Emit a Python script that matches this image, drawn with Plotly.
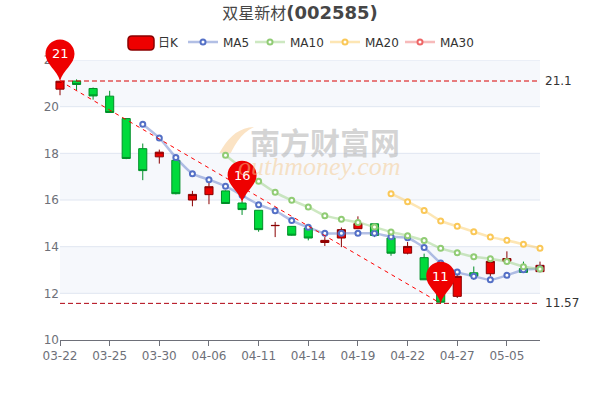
import plotly.graph_objects as go

W, H = 600, 400
PLOT_L, PLOT_R, PLOT_T, PLOT_B = 60, 540, 60, 340

dates = ['03-22', '03-23', '03-24', '03-25', '03-28', '03-29', '03-30', '03-31', '04-01', '04-06',
         '04-07', '04-08', '04-11', '04-12', '04-13', '04-14', '04-15', '04-18', '04-19', '04-20',
         '04-21', '04-22', '04-25', '04-26', '04-27', '04-28', '04-29', '05-05', '05-06', '05-09']

opens = [20.75, 21.10, 20.78, 20.45, 19.49, 18.20, 17.85, 17.70, 16.00, 16.23,
         16.39, 15.87, 15.56, 14.90, 14.87, 14.80, 14.18, 14.37, 14.77, 14.98,
         14.37, 13.72, 13.53, 12.80, 11.87, 12.88, 12.84, 13.38, 13.06, 12.93]
closes = [21.09, 20.95, 20.46, 19.75, 17.78, 17.26, 18.05, 16.27, 16.24, 16.57,
          15.85, 15.59, 14.73, 14.91, 14.49, 14.37, 14.27, 14.73, 14.99, 14.48,
          13.72, 14.01, 12.58, 11.62, 12.73, 12.74, 13.37, 13.49, 12.90, 13.20]
highs = [21.10, 21.17, 20.82, 20.68, 19.49, 18.42, 18.16, 17.70, 16.39, 16.77,
         16.41, 15.95, 15.56, 15.06, 14.87, 14.87, 14.41, 14.82, 15.30, 14.98,
         14.41, 14.20, 13.70, 12.90, 12.80, 13.15, 13.37, 13.80, 13.36, 13.36]
lows = [20.49, 20.70, 20.30, 19.75, 17.75, 16.85, 17.56, 16.24, 15.73, 15.82,
        15.83, 15.36, 14.64, 14.41, 14.47, 14.27, 14.03, 13.98, 14.77, 14.41,
        13.61, 13.67, 12.58, 11.57, 11.80, 12.58, 12.72, 13.23, 12.90, 12.91]

ma5 = [None] * 5 + [19.25, 18.66, 17.82, 17.13, 16.87, 16.59, 16.20, 15.80, 15.54, 15.12,
                    14.83, 14.57, 14.57, 14.57, 14.57, 14.43, 14.38, 13.96, 13.30, 12.91,
                    12.73, 12.58, 12.77, 13.01, 13.05]
ma10 = [None] * 10 + [17.92, 17.36, 16.80, 16.33, 15.99, 15.70, 15.33, 15.17, 15.04, 14.84,
                      14.63, 14.47, 14.26, 13.93, 13.74, 13.57, 13.48, 13.36, 13.14, 13.04]
ma20 = [None] * 20 + [16.27, 15.93, 15.55, 15.10, 14.87, 14.64, 14.41, 14.27, 14.10, 13.93]
ma30 = [None] * 30

y_ticks = [10, 12, 14, 16, 18, 20, 22]
x_tick_idx = list(range(0, 30, 3))
pins = [(0, 21.1, '21'), (11, 15.9, '16'), (23, 11.57, '11')]
max_val, min_val = 21.1, 11.57
max_idx, min_idx = 0, 23

idx = list(range(len(dates)))
day_px = (PLOT_R - PLOT_L) / (len(dates) - 1)
PAD = 12  # candles at the ends stick out of the grid, so they get a wider axis


def px(x):
    return x / W


def py(y):
    return 1 - y / H


fig = go.Figure()

fig.add_trace(go.Candlestick(
    x=idx, open=opens, high=highs, low=lows, close=closes, xaxis='x', yaxis='y',
    increasing=dict(fillcolor='#EE0000', line=dict(color='#8A0000', width=1)),
    decreasing=dict(fillcolor='#00DA3C', line=dict(color='#008F28', width=1)),
    whiskerwidth=0, showlegend=False, hoverinfo='skip'))

fig.add_trace(go.Scatter(
    x=idx, y=[None] * len(idx), mode='markers', name='日K', xaxis='x2', yaxis='y', legend='legend',
    marker=dict(color='rgba(0,0,0,0)', size=1), hoverinfo='skip'))


def ma_trace(name, values, color, rgba, legend):
    return go.Scatter(
        x=idx, y=values, mode='lines+markers', name=name, xaxis='x2', yaxis='y', legend=legend,
        line=dict(color=rgba, width=2.5, shape='spline', smoothing=0.5),
        marker=dict(color='white', size=5, line=dict(color=color, width=2)),
        connectgaps=False, cliponaxis=False, hoverinfo='skip')


fig.add_trace(ma_trace('MA5', ma5, '#5470C6', 'rgba(84,112,198,0.45)', 'legend2'))
fig.add_trace(ma_trace('MA10', ma10, '#91CC75', 'rgba(145,204,117,0.45)', 'legend3'))
fig.add_trace(ma_trace('MA20', ma20, '#FAC858', 'rgba(250,200,88,0.45)', 'legend4'))
fig.add_trace(ma_trace('MA30', ma30, '#EE6666', 'rgba(238,102,102,0.45)', 'legend5'))

# mark lines
fig.add_trace(go.Scatter(x=[idx[0], idx[-1]], y=[max_val, max_val], mode='lines', xaxis='x2', yaxis='y',
                         line=dict(color='#D80000', width=1, dash='5px,3px'), showlegend=False, hoverinfo='skip'))
fig.add_trace(go.Scatter(x=[idx[0], idx[-1]], y=[min_val, min_val], mode='lines', xaxis='x2', yaxis='y',
                         line=dict(color='#B00010', width=1, dash='5px,3px'), showlegend=False, hoverinfo='skip'))
fig.add_trace(go.Scatter(x=[max_idx, min_idx], y=[max_val, min_val], mode='lines', xaxis='x2', yaxis='y',
                         line=dict(color='#FF0000', width=1, dash='4px,4px'), showlegend=False, hoverinfo='skip'))

shapes = []
# split areas and split lines
for i in range(len(y_ticks) - 1):
    if i % 2 == 1:
        continue
    shapes.append(dict(type='rect', xref='x', yref='y', x0=idx[0], x1=idx[-1], y0=y_ticks[-1 - i], y1=y_ticks[-2 - i],
                       fillcolor='#F6F8FC', line_width=0, layer='below'))
for t in y_ticks[1:]:
    shapes.append(dict(type='line', xref='x', yref='y', x0=idx[0], x1=idx[-1], y0=t, y1=t,
                       line=dict(color='#E0E6F1', width=1), layer='below'))

# watermark crescent
shapes.append(dict(type='path', xref='paper', yref='paper', layer='below', fillcolor='#FBE3C4', line_width=0,
                   path='M {:.4f} {:.4f} C {:.4f} {:.4f} {:.4f} {:.4f} {:.4f} {:.4f} C {:.4f} {:.4f} {:.4f} {:.4f} {:.4f} {:.4f} Z'.format(
                       px(254), py(127), px(226), py(128), px(214), py(160), px(204), py(194),
                       px(228), py(180), px(226), py(140), px(254), py(127))))

# legend swatch, anchored so the rounded corners can be given in pixels
SWATCH_PATH = ('M -9 -7 L 9 -7 Q 13 -7 13 -3 L 13 3 Q 13 7 9 7 L -9 7 '
               'Q -13 7 -13 3 L -13 -3 Q -13 -7 -9 -7 Z')
shapes.append(dict(type='path', xref='paper', yref='paper', xsizemode='pixel', ysizemode='pixel',
                   xanchor=px(141), yanchor=py(43), path=SWATCH_PATH,
                   fillcolor='#EE0000', line=dict(color='#8A0000', width=1.5)))


def x_paper(i):
    return px(PLOT_L + i * day_px)


def y_paper(v):
    return py(PLOT_B - (v - y_ticks[0]) / (y_ticks[-1] - y_ticks[0]) * (PLOT_B - PLOT_T))


# teardrop, tip at anchor, y goes up
PIN_PATH = 'M 0 0 C -3 11 -14.5 17 -14.5 27 C -14.5 35 -8 41.5 0 41.5 C 8 41.5 14.5 35 14.5 27 C 14.5 17 3 11 0 0 Z'

annotations = []
for i, v, label in pins:
    shapes.append(dict(type='path', xref='paper', yref='paper', xsizemode='pixel', ysizemode='pixel',
                       xanchor=x_paper(i), yanchor=y_paper(v), path=PIN_PATH, fillcolor='#EE0000', line_width=0))
    annotations.append(dict(x=x_paper(i), y=y_paper(v), xref='paper', yref='paper', text=label, showarrow=False,
                            xanchor='center', yanchor='middle', yshift=27,
                            font=dict(color='white', size=13, family='DejaVu Sans')))

for v, label in [(max_val, '21.1'), (min_val, '11.57')]:
    annotations.append(dict(x=idx[-1], y=v, xref='x2', yref='y', text=label, showarrow=False, xanchor='left',
                            xshift=3, font=dict(color='#333333', size=12, family='DejaVu Sans')))

annotations.append(dict(x=px(325), y=py(141), xref='paper', yref='paper', text='<b>南方财富网</b>', showarrow=False,
                        xanchor='center', yanchor='middle',
                        font=dict(color='rgba(170,170,170,0.5)', size=30, family='Noto Sans CJK SC')))
annotations.append(dict(x=px(319), y=py(166), xref='paper', yref='paper', text='<i>outhmoney.com</i>', showarrow=False,
                        xanchor='center', yanchor='middle',
                        font=dict(color='rgba(245,200,140,0.5)', size=26, family='Liberation Serif')))

# one legend box per entry so each sits where the reference has it
legend_base = dict(orientation='h', xanchor='left', yanchor='middle', y=py(42), bgcolor='rgba(0,0,0,0)',
                   font=dict(size=12, color='#333333'), itemwidth=30, itemclick=False, itemdoubleclick=False)

fig.update_layout(
    width=W, height=H,
    margin=dict(l=0, r=0, t=0, b=0, pad=0),
    paper_bgcolor='white', plot_bgcolor='rgba(0,0,0,0)',
    font=dict(family='DejaVu Sans, Noto Sans CJK SC', size=12, color='#333333'),
    title=dict(text='<span style="font-size:16px">双星新材</span><b>(002585)</b>', x=0.5,
               xanchor='center', y=py(13), yanchor='middle', font=dict(size=18, color='#464646')),
    boxgap=0.3,
    shapes=shapes, annotations=annotations,
    legend=dict(legend_base, x=px(118)),
    legend2=dict(legend_base, x=px(183)),
    legend3=dict(legend_base, x=px(250)),
    legend4=dict(legend_base, x=px(325)),
    legend5=dict(legend_base, x=px(400)),
    xaxis=dict(domain=[px(PLOT_L - PAD), px(PLOT_R + PAD)], range=[-PAD / day_px, idx[-1] + PAD / day_px],
               anchor='y', visible=False, rangeslider=dict(visible=False), showgrid=False, zeroline=False,
               automargin=False),
    xaxis2=dict(domain=[px(PLOT_L), px(PLOT_R)], range=[idx[0], idx[-1]], anchor='y', automargin=False,
                tickmode='array', tickvals=x_tick_idx, ticktext=[dates[i] for i in x_tick_idx],
                ticks='outside', ticklen=5, tickcolor='#6E7079', showline=True, linecolor='#6E7079', linewidth=1,
                tickfont=dict(color='#6E7079', size=12), showgrid=False, zeroline=False),
    yaxis=dict(domain=[py(PLOT_B), py(PLOT_T)], range=[y_ticks[0], y_ticks[-1]], anchor='x2', automargin=False,
               tickmode='array', tickvals=y_ticks, ticks='', showgrid=False, zeroline=False, showline=False,
               tickfont=dict(color='#6E7079', size=12)),
)

# body margin off, otherwise the page pushes the figure 8px in and clips the title
fig.write_html("out.html", config={'displayModeBar': False}, post_script="document.body.style.margin='0';")
